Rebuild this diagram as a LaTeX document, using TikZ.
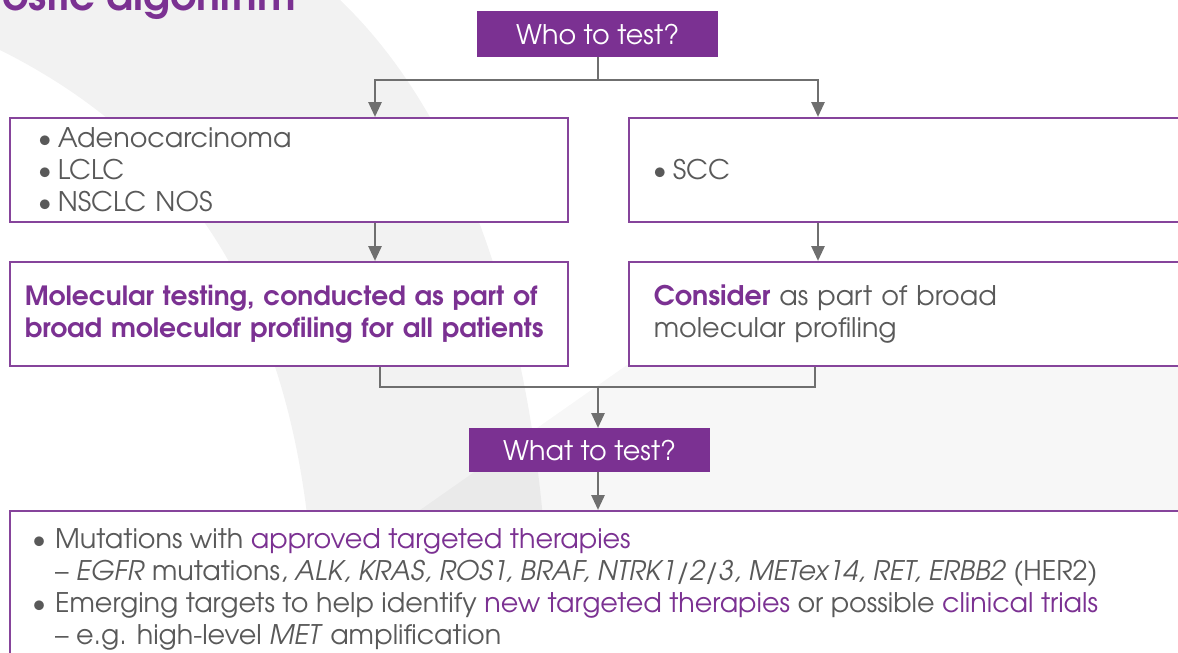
\documentclass[tikz,border=0pt]{standalone}
\usepackage{fontspec}
\setmainfont{texgyreadventor}[
  Extension=.otf,
  UprightFont=*-regular,
  BoldFont=*-bold,
  ItalicFont=*-italic,
  BoldItalicFont=*-bolditalic]
\usetikzlibrary{arrows.meta,calc}

\definecolor{brandpurple}{HTML}{7B3192}
\definecolor{boxline}{HTML}{86449B}
\definecolor{bodygray}{HTML}{595959}
\definecolor{linkgray}{HTML}{6F6F6F}

\newcommand{\bul}{\makebox[17pt][l]{\hspace*{-3pt}•}}
\newcommand{\bulwide}{\makebox[20pt][l]{\hspace*{-3pt}•}}
\newcommand{\hl}[1]{{\color{brandpurple}#1}}

\begin{document}
\begin{tikzpicture}[x=1pt,y=-1pt,
  header/.style={fill=brandpurple, text=white, font=\fontsize{27}{30}\selectfont,
    inner sep=0pt, minimum width=241pt, anchor=north west},
  panel/.style={draw=boxline, line width=1.6pt, fill=white, inner ysep=0pt,
    align=left, anchor=north west, text=bodygray},
  link/.style={draw=linkgray, line width=2.8pt},
  arr/.style={link, -{Triangle[width=13pt,length=15pt]}},
  body/.style={font=\fontsize{27}{32}\selectfont},
]
\useasboundingbox (0,0) rectangle (1178,653);

% soft background swoosh
\fill[black, opacity=0.05]
  (0,0) -- (340,0) .. controls (445,100) and (545,300) .. (550,653)
  -- (315,653) .. controls (315,330) and (200,150) .. (0,50) -- cycle;
\fill[black, opacity=0.03]
  (627,365) -- (1178,365) -- (1178,653) -- (216,653) -- cycle;

% heading fragment
\node[font=\fontsize{41}{41}\selectfont\bfseries, text=brandpurple,
  anchor=base east, inner sep=0pt] (title) at (296,10) {ostic algorithm};

% top question
\node[header, minimum height=46pt] (who) at (477,11) {Who to test?};

% histology boxes
\node[panel, body, text width=496pt, inner xsep=31pt, minimum height=104pt]
  (boxA) at (9,117) {\bul Adenocarcinoma\\ \bul LCLC\\ \bul NSCLC NOS};
\node[panel, body, text width=546pt, inner xsep=27pt, minimum height=104pt]
  (boxB) at (628,117) {\bul SCC};

% testing recommendation boxes
\node[panel, font=\fontsize{26.5}{32}\selectfont\bfseries, text=brandpurple,
  text width=536pt, inner xsep=11pt, minimum height=104pt]
  (boxC) at (9,261) {\hspace*{4pt}Molecular testing, conducted as part of\\\hspace*{4pt}broad molecular profiling for all patients};
\node[panel, body, text width=550pt, inner xsep=25pt, minimum height=104pt]
  (boxD) at (628,261) {\hl{\bfseries Consider} as part of broad\\molecular profiling};

% second question
\node[header, minimum height=44pt] (what) at (469,428) {What to test?};

% test list
\node[panel, minimum width=1200pt, minimum height=200pt] (tests) at (9,510) {};
\node[body, text=bodygray, align=left, anchor=north west, inner sep=0pt]
  (testlist) at (35,528) {%
  \bulwide Mutations with \hl{approved targeted therapies}\\
  \hspace*{20pt}– \textit{EGFR} mutations, \textit{ALK, KRAS, ROS1, BRAF, NTRK1/2/3, METex14, RET, ERBB2} (HER2)\\
  \bulwide Emerging targets to help identify \hl{new targeted therapies} or possible \hl{clinical trials}\\
  \hspace*{20pt}– e.g. high-level \textit{MET} amplification};

% junction points of the connectors
\coordinate (split) at (598,80);
\coordinate (aIn) at (375,117);
\coordinate (bIn) at (818,117);
\coordinate (cOut) at (380,365);
\coordinate (dOut) at (815,365);
\coordinate (merge) at (598,387);

% connectors
\draw[link] (who.south -| split) -- (split);
\draw[arr] (split) -| (aIn);
\draw[arr] (split) -| (bIn);
\draw[arr] (boxA.south -| aIn) -- (boxC.north -| aIn);
\draw[arr] (boxB.south -| bIn) -- (boxD.north -| bIn);
\draw[link] (boxC.south -| cOut) |- (merge) -| (boxD.south -| dOut);
\draw[arr] (merge) -- (what.north -| merge);
\draw[arr] (what.south -| merge) -- (tests.north -| merge);
\end{tikzpicture}
\end{document}
